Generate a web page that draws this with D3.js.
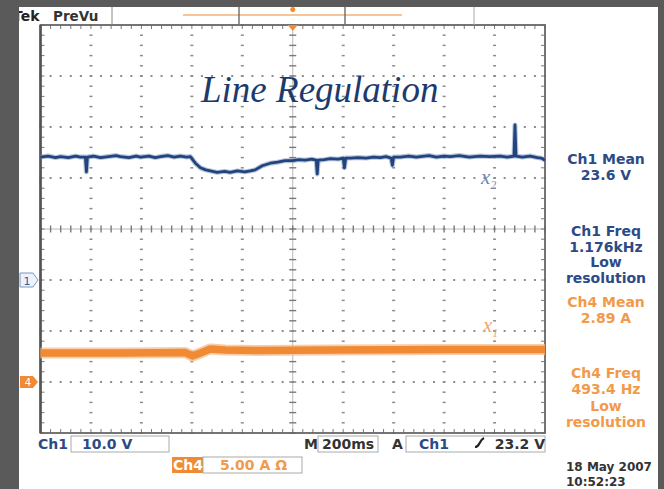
<!DOCTYPE html>
<html>
<head>
<meta charset="utf-8">
<script src="https://cdn.jsdelivr.net/npm/d3@7"></script>
<style>
  html, body { margin: 0; padding: 0; background: #5a5a5a; }
  svg { display: block; }
</style>
</head>
<body>
<svg id="chart" width="664" height="489"></svg>
<script>
// ---------- data ----------
// Ch1 (blue, volts) over time in ms; the screen spans -1000..1000 ms (200 ms/div)
const ch1TimeMs = [-1000, -970, -940, -921, -890, -860, -842, -822, -818, -814, -790, -762, -730, -700, -683, -650, -620, -604, -570, -545, -525, -495, -470, -446, -420, -406, -386, -366, -345, -327, -300, -270, -248, -220, -190, -168, -149, -121, -89, -60, -30, 0, 25, 50, 75, 93, 97, 101, 125, 149, 180, 200, 205, 210, 228, 260, 290, 320, 347, 370, 390, 395, 400, 426, 460, 490, 505, 540, 570, 600, 624, 660, 700, 743, 780, 822, 850, 877, 881, 885, 910, 941, 970, 985, 1000];
const ch1Volts  = [24.1, 24.3, 24.0, 24.2, 24.0, 24.3, 24.1, 24.1, 21.2, 24.1, 24.3, 24.0, 24.2, 24.4, 24.2, 24.0, 24.3, 24.1, 24.3, 24.0, 24.2, 24.4, 24.1, 24.3, 24.1, 24.2, 22.9, 22.0, 21.6, 21.4, 21.1, 21.3, 21.1, 21.4, 21.2, 21.4, 21.6, 22.4, 22.9, 23.1, 23.4, 23.4, 23.6, 23.5, 23.7, 23.5, 20.8, 23.5, 23.6, 23.8, 23.7, 23.9, 22.0, 23.9, 23.9, 24.0, 23.9, 24.1, 24.0, 24.2, 23.9, 22.5, 24.1, 24.1, 24.3, 24.1, 24.2, 24.4, 24.1, 24.3, 24.2, 24.4, 24.1, 24.3, 24.2, 24.3, 24.1, 24.3, 30.4, 24.3, 24.1, 24.3, 24.0, 23.9, 23.5];
// Ch4 (orange, amps)
const ch4TimeMs = [-1000, -683, -426, -398, -366, -327, -267, -129, 149, 624, 1000];
const ch4Amps   = [2.84, 2.84, 2.89, 2.55, 2.84, 3.24, 3.14, 3.09, 3.14, 3.19, 3.19];

const title = "Line Regulation";
const ch1Readout = ["Ch1 Mean", "23.6 V"];
const ch1FreqReadout = ["Ch1 Freq", "1.176kHz", "Low", "resolution"];
const ch4Readout = ["Ch4 Mean", "2.89 A"];
const ch4FreqReadout = ["Ch4 Freq", "493.4 Hz", "Low", "resolution"];
const dateLines = ["18 May 2007", "10:52:23"];
const ch1Scale = "10.0 V";
const ch4Scale = "5.00 A \u03A9";
const timeBase = "200ms";
const trigLevel = "23.2 V";

// ---------- scales ----------
const L = 40.5, R = 545, T = 25, B = 433;
const x = d3.scaleLinear().domain([-1000, 1000]).range([L, R]);
const yV = d3.scaleLinear().domain([-30, 50]).range([B, T]);   // 10 V/div, Ch1 ground at 0 V
const yA = d3.scaleLinear().domain([-5, 35]).range([B, T]);    // 5 A/div, Ch4 ground at 0 A

const svg = d3.select("#chart");
const BLUE = "#22447e", BLUE_TXT = "#2c4a86", ORANGE = "#f08a34", ORANGE_TXT = "#f29a4a";
const FONT = "'DejaVu Sans', Verdana, sans-serif";

// white panel
svg.append("rect").attr("x", 19).attr("y", 7).attr("width", 639).attr("height", 482).attr("fill", "#ffffff");

// ---------- graticule ----------
const g = svg.append("g");
const majorX = d3.range(-1000, 1001, 200);
const minorX = d3.range(-1000, 1001, 40);
const majorV = d3.range(-30, 51, 10);
const minorV = d3.range(-30, 50.1, 2);

// dotted major grid lines
majorX.filter(t => t !== -1000 && t !== 1000 && t !== 0).forEach(t => {
  minorV.forEach(v => g.append("rect").attr("x", x(t) - 1.5).attr("y", yV(v) - 0.75).attr("width", 3).attr("height", 1.5).attr("fill", "#8c8c8c"));
});
majorV.filter(v => v !== -30 && v !== 50 && v !== 10).forEach(v => {
  minorX.forEach(t => g.append("rect").attr("x", x(t) - 1).attr("y", yV(v) - 1).attr("width", 2).attr("height", 2).attr("fill", "#8c8c8c"));
});
// centre cross with ticks
g.append("line").attr("x1", L).attr("x2", R).attr("y1", yV(10)).attr("y2", yV(10)).attr("stroke", "#b8b8b8").attr("stroke-width", 1);
g.append("line").attr("x1", x(0)).attr("x2", x(0)).attr("y1", T).attr("y2", B).attr("stroke", "#b8b8b8").attr("stroke-width", 1);
minorX.forEach(t => g.append("line").attr("x1", x(t)).attr("x2", x(t)).attr("y1", yV(10) - 3.5).attr("y2", yV(10) + 3.5).attr("stroke", "#7a7a7a").attr("stroke-width", 1.4));
minorV.forEach(v => g.append("line").attr("x1", x(0) - 3.5).attr("x2", x(0) + 3.5).attr("y1", yV(v)).attr("y2", yV(v)).attr("stroke", "#7a7a7a").attr("stroke-width", 1.4));
// border ticks
minorX.forEach(t => {
  g.append("line").attr("x1", x(t)).attr("x2", x(t)).attr("y1", T).attr("y2", T + 4).attr("stroke", "#7a7a7a");
  g.append("line").attr("x1", x(t)).attr("x2", x(t)).attr("y1", B - 4).attr("y2", B).attr("stroke", "#7a7a7a");
});
minorV.forEach(v => {
  g.append("line").attr("x1", L).attr("x2", L + 4).attr("y1", yV(v)).attr("y2", yV(v)).attr("stroke", "#7a7a7a");
  g.append("line").attr("x1", R - 4).attr("x2", R).attr("y1", yV(v)).attr("y2", yV(v)).attr("stroke", "#7a7a7a");
});
// border
g.append("rect").attr("x", L).attr("y", T).attr("width", R - L).attr("height", B - T)
  .attr("fill", "none").attr("stroke", "#666").attr("stroke-width", 1.8);
g.append("line").attr("x1", L).attr("x2", L).attr("y1", T).attr("y2", B).attr("stroke", "#555").attr("stroke-width", 2.6);

// ---------- traces ----------
const line1 = d3.line().x((d, i) => x(ch1TimeMs[i])).y(d => yV(d));
const line4 = d3.line().x((d, i) => x(ch4TimeMs[i])).y(d => yA(d));
svg.append("path").attr("d", line4(ch4Amps)).attr("fill", "none").attr("stroke", "#f7bd8a").attr("stroke-width", 11).attr("stroke-linejoin", "round").attr("opacity", 0.75);
svg.append("path").attr("d", line4(ch4Amps)).attr("fill", "none").attr("stroke", ORANGE).attr("stroke-width", 7.5).attr("stroke-linejoin", "round");
svg.append("path").attr("d", line1(ch1Volts)).attr("fill", "none").attr("stroke", "#7f95bd").attr("stroke-width", 5).attr("stroke-linejoin", "round").attr("opacity", 0.55);
svg.append("path").attr("d", line1(ch1Volts)).attr("fill", "none").attr("stroke", BLUE).attr("stroke-width", 2.8).attr("stroke-linejoin", "round");

// ---------- title and trace labels ----------
svg.append("text").attr("x", 201).attr("y", 102).text(title)
  .attr("font-family", "'Liberation Serif', 'Times New Roman', serif").attr("font-style", "italic")
  .attr("font-size", 37).attr("fill", "#1c3b6d");
function traceLabel(px, py, sub, col) {
  const t = svg.append("text").attr("x", px).attr("y", py)
    .attr("font-family", "'Liberation Serif', serif").attr("font-style", "italic").attr("fill", col);
  t.append("tspan").attr("font-size", 21).text("x");
  t.append("tspan").attr("font-size", 12).attr("dy", 5).text(sub);
}
traceLabel(481, 184, "2", "#7487aa");
traceLabel(483, 332, "1", "#f3a868");

// ---------- channel markers ----------
svg.append("path").attr("d", `M20,${yV(0) - 7} h13 l5,7 l-5,7 h-13 z`).attr("fill", "#eef3fa").attr("stroke", "#7b96c2").attr("stroke-width", 1);
svg.append("text").attr("x", 27).attr("y", yV(0) + 4.5).attr("text-anchor", "middle").attr("font-family", FONT).attr("font-size", 11).attr("fill", "#3a5a96").text("1");
svg.append("path").attr("d", `M20,${yA(0) - 6} h13 l5,6 l-5,6 h-13 z`).attr("fill", ORANGE);
svg.append("text").attr("x", 28).attr("y", yA(0) + 4).attr("text-anchor", "middle").attr("font-family", FONT).attr("font-size", 10).attr("fill", "#fff").text("4");
// trigger position marker
svg.append("path").attr("d", `M${x(0) - 5},${T} L${x(0) + 5},${T} L${x(0)},${T + 6} z`).attr("fill", ORANGE);

// ---------- top status strip ----------
svg.append("text").attr("x", 13).attr("y", 21).attr("font-family", FONT).attr("font-weight", "bold").attr("font-size", 14).attr("fill", "#222").text("Tek");
svg.append("text").attr("x", 53).attr("y", 21).attr("font-family", FONT).attr("font-weight", "bold").attr("font-size", 13.5).attr("fill", "#333").text("PreVu");
svg.append("rect").attr("x", 0).attr("y", 0).attr("width", 19).attr("height", 489).attr("fill", "#5a5a5a");
svg.append("line").attr("x1", 112).attr("x2", 112).attr("y1", 7).attr("y2", 25).attr("stroke", "#888");
svg.append("line").attr("x1", 183).attr("x2", 402).attr("y1", 15).attr("y2", 15).attr("stroke", "#f2b07a").attr("stroke-width", 1.5);
svg.append("line").attr("x1", 239).attr("x2", 239).attr("y1", 7).attr("y2", 24).attr("stroke", "#6a6a6a").attr("stroke-width", 1.4);
svg.append("line").attr("x1", 345).attr("x2", 345).attr("y1", 7).attr("y2", 24).attr("stroke", "#6a6a6a").attr("stroke-width", 1.4);
svg.append("line").attr("x1", 474).attr("x2", 474).attr("y1", 7).attr("y2", 25).attr("stroke", "#aaa").attr("stroke-width", 1);
svg.append("circle").attr("cx", x(0)).attr("cy", 9.5).attr("r", 2.5).attr("fill", ORANGE);

// ---------- right readouts ----------
function block(lines, y0, col, step) {
  lines.forEach((s, i) => svg.append("text").attr("x", 606).attr("y", y0 + i * step).attr("text-anchor", "middle")
    .attr("font-family", FONT).attr("font-weight", "bold").attr("font-size", 14).attr("fill", col).text(s));
}
block(ch1Readout, 164, BLUE_TXT, 15.5);
block(ch1FreqReadout, 236, BLUE_TXT, 15.6);
block(ch4Readout, 307, ORANGE_TXT, 15.5);
block(ch4FreqReadout, 378, ORANGE_TXT, 16.3);
dateLines.forEach((s, i) => svg.append("text").attr("x", 566).attr("y", 471 + i * 14.5)
  .attr("font-family", FONT).attr("font-weight", "bold").attr("font-size", 12).attr("fill", "#333").text(s));

// ---------- bottom readouts ----------
const bt = (px, py, s, col, anchor) => svg.append("text").attr("x", px).attr("y", py).attr("text-anchor", anchor || "start")
  .attr("font-family", FONT).attr("font-weight", "bold").attr("font-size", 14).attr("fill", col).text(s);
const box = (x0, y0, w, h) => svg.append("rect").attr("x", x0).attr("y", y0).attr("width", w).attr("height", h)
  .attr("fill", "#fff").attr("stroke", "#aaa").attr("stroke-width", 1);
box(71, 436, 98, 16);
bt(38, 449, "Ch1", BLUE_TXT);
bt(82, 449, ch1Scale, BLUE_TXT);
box(318, 436, 60, 16);
bt(304, 449, "M", "#333");
bt(322, 449, timeBase, "#333");
box(406, 436, 139, 16);
bt(392, 449, "A", "#333");
bt(419, 449, "Ch1", BLUE_TXT);
svg.append("path").attr("d", "M475,447 C480,447 479,440 484,438").attr("fill", "none").attr("stroke", "#222").attr("stroke-width", 2.2);
bt(545, 449, trigLevel, "#333", "end");
svg.append("rect").attr("x", 172).attr("y", 457).attr("width", 31).attr("height", 16).attr("fill", ORANGE);
bt(173, 470, "Ch4", "#fff");
box(203, 457, 99, 16);
bt(220, 470, ch4Scale, ORANGE_TXT);

// outer grey frame on the right and top
svg.append("rect").attr("x", 658).attr("y", 0).attr("width", 6).attr("height", 489).attr("fill", "#5a5a5a");
svg.append("rect").attr("x", 0).attr("y", 0).attr("width", 664).attr("height", 7).attr("fill", "#5a5a5a");
</script>
</body>
</html>
